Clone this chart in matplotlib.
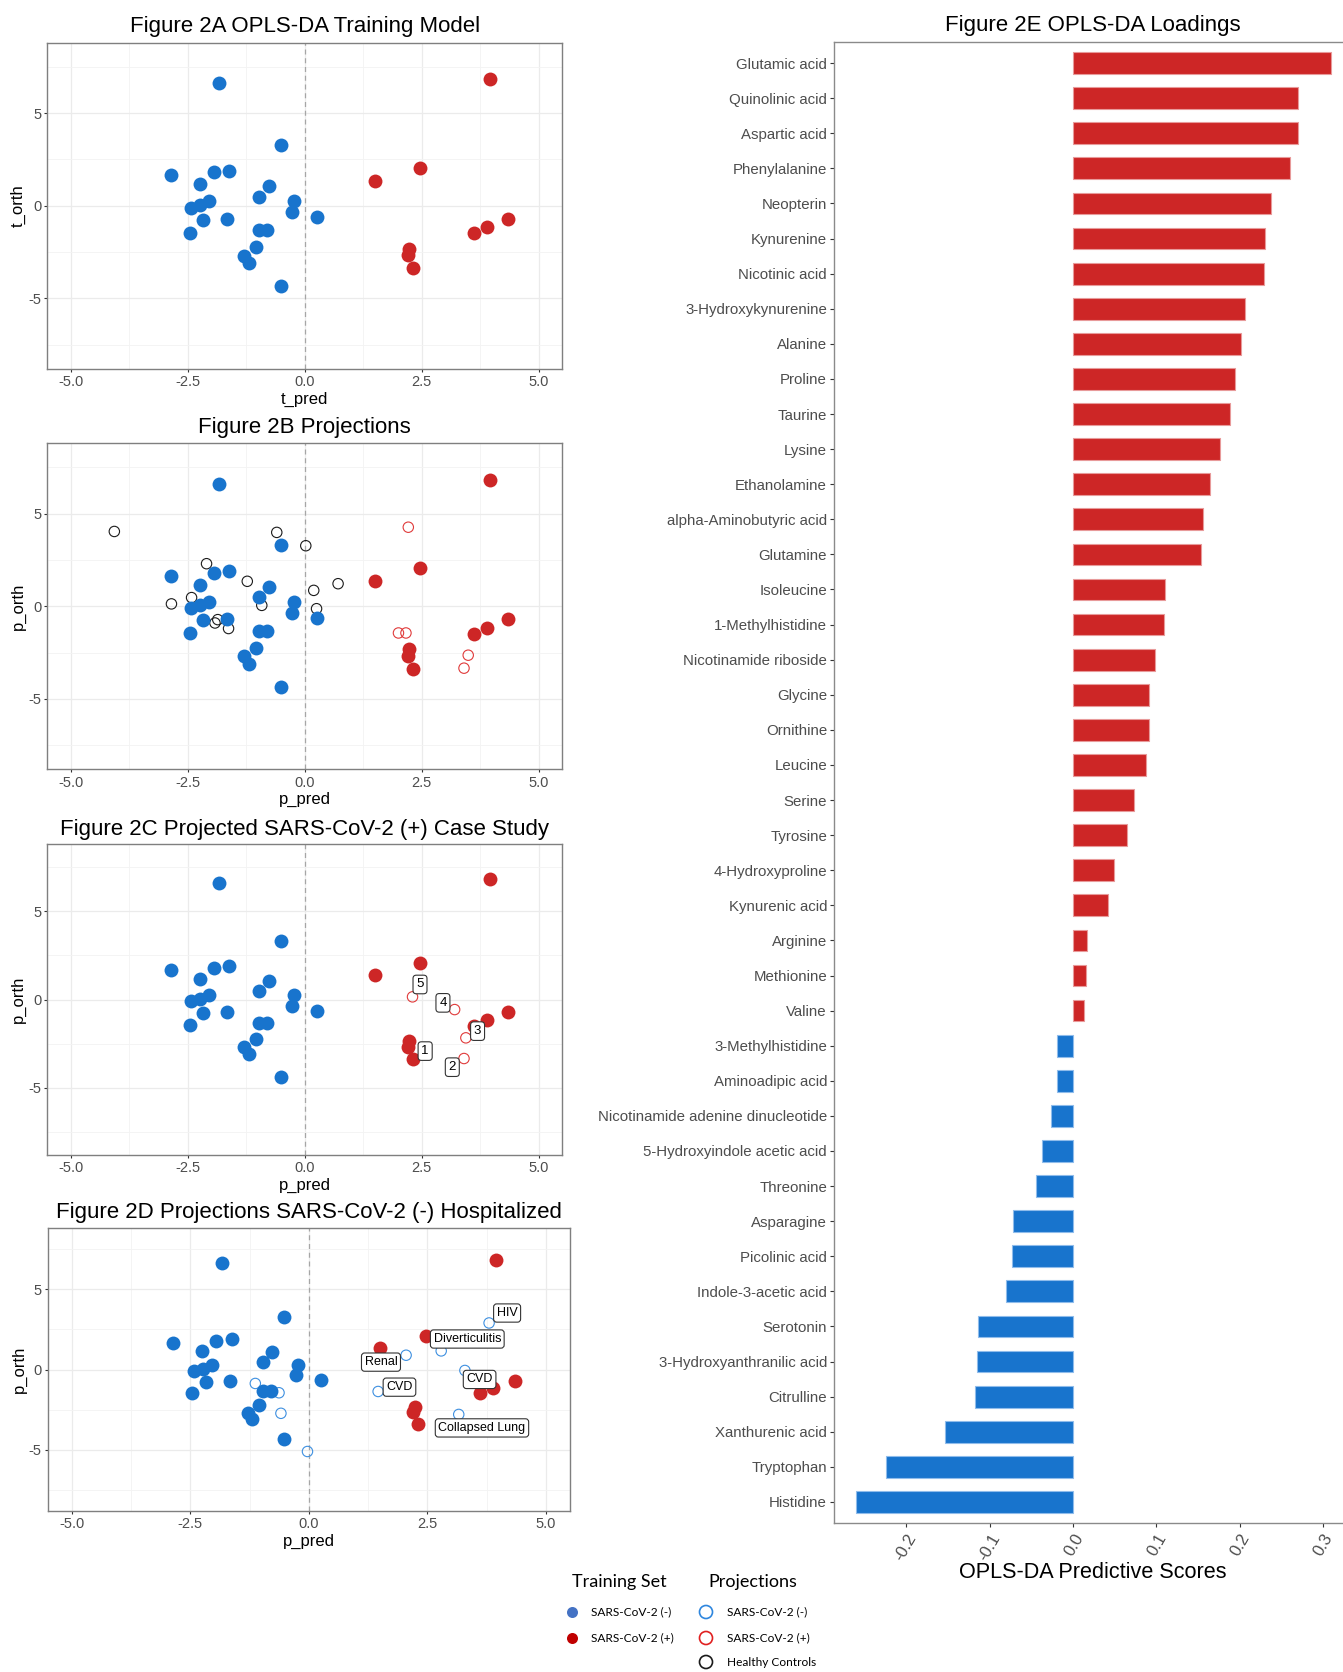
import matplotlib.pyplot as plt
import numpy as np

plt.rcParams['font.family'] = ['Liberation Sans', 'DejaVu Sans']

W, H = 1343, 1672

BLUE = '#1874CD'
RED = '#CD2626'
OPEN_BLUE = '#3D8FE0'
OPEN_RED = '#E03A3A'
OPEN_BLACK = '#1A1A1A'

# training set scores, shared by the four score plots
neg_x = [-1.83, -0.52, -2.86, -1.95, -1.62, -2.25, -0.77, -0.97, -0.24, -2.04, -2.23, -2.43,
         -0.28, 0.26, -2.17, -1.67, -2.46, -0.97, -0.80, -1.05, -1.29, -1.19, -0.52]
neg_y = [6.61, 3.29, 1.65, 1.80, 1.90, 1.15, 1.06, 0.48, 0.25, 0.25, 0.05, -0.11,
         -0.34, -0.63, -0.75, -0.70, -1.45, -1.31, -1.31, -2.24, -2.69, -3.11, -4.36]
pos_x = [3.95, 2.46, 1.50, 4.35, 3.89, 3.61, 2.23, 2.20, 2.31]
pos_y = [6.84, 2.06, 1.36, -0.70, -1.17, -1.49, -2.33, -2.66, -3.38]

# projections: healthy controls and SARS-CoV-2 (+) samples
healthy_x = [-4.07, -0.60, 0.02, -2.10, -1.23, 0.71, 0.19, -2.42, -2.85, -0.92, 0.25, -1.86, -1.92, -1.63]
healthy_y = [4.04, 3.99, 3.27, 2.30, 1.35, 1.22, 0.86, 0.47, 0.13, 0.05, -0.13, -0.72, -0.90, -1.20]
proj_pos_x = [2.21, 2.00, 2.16, 3.49, 3.40]
proj_pos_y = [4.27, -1.44, -1.44, -2.64, -3.34]

# SARS-CoV-2 (+) case study
case_labels = ['1', '2', '3', '4', '5']
case_x = [2.22, 3.40, 3.44, 3.20, 2.30]
case_y = [-2.55, -3.34, -2.17, -0.57, 0.15]
case_label_x = [2.57, 3.15, 3.69, 2.95, 2.46]
case_label_y = [-2.92, -3.83, -1.79, -0.19, 0.85]

# hospitalized SARS-CoV-2 (-) projections
hosp_labels = ['HIV', 'Diverticulitis', 'Renal', 'CVD', 'CVD', 'Collapsed Lung', '', '', '', '']
hosp_x = [3.80, 2.79, 2.05, 3.29, 1.46, 3.16, -1.13, -0.63, -0.59, -0.03]
hosp_y = [2.90, 1.16, 0.89, -0.06, -1.37, -2.80, -0.87, -1.45, -2.73, -5.11]
hosp_label_x = [4.18, 3.34, 1.52, 3.60, 1.91, 3.65]
hosp_label_y = [3.52, 1.90, 0.46, -0.62, -1.10, -3.64]

# OPLS-DA loadings
metabolites = ['Glutamic acid', 'Quinolinic acid', 'Aspartic acid', 'Phenylalanine', 'Neopterin',
               'Kynurenine', 'Nicotinic acid', '3-Hydroxykynurenine', 'Alanine', 'Proline',
               'Taurine', 'Lysine', 'Ethanolamine', 'alpha-Aminobutyric acid', 'Glutamine',
               'Isoleucine', '1-Methylhistidine', 'Nicotinamide riboside', 'Glycine', 'Ornithine',
               'Leucine', 'Serine', 'Tyrosine', '4-Hydroxyproline', 'Kynurenic acid',
               'Arginine', 'Methionine', 'Valine', '3-Methylhistidine', 'Aminoadipic acid',
               'Nicotinamide adenine dinucleotide', '5-Hydroxyindole acetic acid', 'Threonine',
               'Asparagine', 'Picolinic acid', 'Indole-3-acetic acid', 'Serotonin',
               '3-Hydroxyanthranilic acid', 'Citrulline', 'Xanthurenic acid', 'Tryptophan',
               'Histidine']
loadings = [0.310, 0.270, 0.270, 0.260, 0.238, 0.230, 0.229, 0.207, 0.202, 0.195,
            0.188, 0.177, 0.164, 0.156, 0.154, 0.110, 0.109, 0.099, 0.091, 0.091,
            0.088, 0.073, 0.065, 0.049, 0.042, 0.017, 0.015, 0.013, -0.019, -0.019,
            -0.026, -0.037, -0.044, -0.072, -0.073, -0.081, -0.114, -0.115, -0.118, -0.154,
            -0.224, -0.260]


def frame(l, t, r, b):
    # pixel box (left, top, right, bottom) -> figure fraction rect
    return [l / W, 1 - b / H, (r - l) / W, (b - t) / H]


def score_panel(fig, box, title, title_y, xlabel, ylabel):
    ax = fig.add_axes(frame(*box))
    ax.set_xlim(-5.5, 5.5)
    ax.set_ylim(-8.8, 8.8)
    ax.set_xticks([-5, -2.5, 0, 2.5, 5])
    ax.set_xticklabels(['-5.0', '-2.5', '0.0', '2.5', '5.0'])
    ax.set_xticks([-3.75, -1.25, 1.25, 3.75], minor=True)
    ax.set_yticks([-5, 0, 5])
    ax.set_yticklabels(['-5', '0', '5'])
    ax.set_yticks([-7.5, -2.5, 2.5, 7.5], minor=True)
    ax.grid(which='major', color='#EBEBEB', lw=0.9)
    ax.grid(which='minor', color='#F3F3F3', lw=0.6)
    ax.set_axisbelow(True)
    ax.tick_params(which='minor', length=0)
    ax.tick_params(which='major', length=2.5, width=0.8, color='#333333',
                   labelsize=10.5, labelcolor='#4D4D4D', pad=2)
    for s in ax.spines.values():
        s.set_color('#7F7F7F')
        s.set_linewidth(1.0)
    ax.axvline(0, color='#A6A6A6', lw=0.9, ls=(0, (4, 3)), zorder=1)
    ax.set_xlabel(xlabel, fontsize=12, labelpad=2)
    ax.set_ylabel(ylabel, fontsize=12, labelpad=1.5)
    cx = (box[0] + box[2]) / 2
    fig.text(cx / W, 1 - (title_y + 2.5) / H, title, fontsize=16, ha='center', va='center')
    return ax


def training(ax):
    ax.scatter(neg_x, neg_y, s=100, color=BLUE, lw=0, zorder=4)
    ax.scatter(pos_x, pos_y, s=100, color=RED, lw=0, zorder=4)


def open_points(ax, x, y, color):
    ax.scatter(x, y, s=56, facecolors='none', edgecolors=color, lw=0.8, zorder=3)


def tag(ax, x, y, text, size):
    ax.text(x, y, text, fontsize=size, ha='center', va='center', zorder=6,
            bbox=dict(boxstyle='round,pad=0.25', fc='white', ec='#333333', lw=0.8))


fig = plt.figure(figsize=(W / 100, H / 100), dpi=100)

# A: training model
ax = score_panel(fig, (47.4, 42.7, 562.3, 368.7), 'Figure 2A OPLS-DA Training Model', 24,
                 't_pred', 't_orth')
training(ax)

# B: projections
ax = score_panel(fig, (47.4, 443.3, 562.3, 769.3), 'Figure 2B Projections', 425,
                 'p_pred', 'p_orth')
open_points(ax, healthy_x, healthy_y, OPEN_BLACK)
open_points(ax, proj_pos_x, proj_pos_y, OPEN_RED)
training(ax)

# C: case study
ax = score_panel(fig, (47.4, 844, 562.3, 1155), 'Figure 2C Projected SARS-CoV-2 (+) Case Study',
                 826.7, 'p_pred', 'p_orth')
open_points(ax, case_x, case_y, OPEN_RED)
training(ax)
for lx, ly, t in zip(case_label_x, case_label_y, case_labels):
    tag(ax, lx, ly, t, 9.5)

# D: hospitalized negatives
ax = score_panel(fig, (48.1, 1228.3, 569.7, 1510.7),
                 'Figure 2D Projections SARS-CoV-2 (-) Hospitalized', 1210, 'p_pred', 'p_orth')
open_points(ax, hosp_x, hosp_y, OPEN_BLUE)
training(ax)
for lx, ly, t in zip(hosp_label_x, hosp_label_y, hosp_labels):
    tag(ax, lx, ly, t, 9)

# E: loadings bar chart
ax = fig.add_axes(frame(834, 42, 1352, 1523))
n = len(metabolites)
ypos = np.arange(n)[::-1]
vals = np.array(loadings)
colors = np.where(vals > 0, RED, BLUE)
edges = np.where(vals > 0, '#E89A9A', '#8FBCEB')
ax.barh(ypos, vals, height=0.62, color=colors, edgecolor=edges, lw=0.8)
ax.set_ylim(-0.6, n - 0.4)
ax.set_xlim(-0.287, 0.335)
ax.set_yticks(ypos)
ax.set_yticklabels(metabolites)
ax.set_xticks([-0.2, -0.1, 0.0, 0.1, 0.2, 0.3])
ax.set_xticklabels(['-0.2', '-0.1', '0.0', '0.1', '0.2', '0.3'], rotation=60,
                   ha='right', va='top', rotation_mode='anchor')
ax.tick_params(axis='y', length=3, width=0.8, color='#333333', labelsize=10.8,
               labelcolor='#4D4D4D', pad=2)
ax.tick_params(axis='x', length=3, width=0.8, color='#333333', labelsize=12,
               labelcolor='#4D4D4D', pad=3)
for s in ax.spines.values():
    s.set_color('#8A8A8A')
    s.set_linewidth(1.0)
fig.text(1093 / W, 1 - 25 / H, 'Figure 2E OPLS-DA Loadings', fontsize=16, ha='center', va='center')
fig.text(1093 / W, 1 - 1573 / H, 'OPLS-DA Predictive Scores', fontsize=15.6, ha='center', va='center')

# legend drawn in pixel space
lg = fig.add_axes([0, 0, 1, 1])
lg.set_xlim(0, W)
lg.set_ylim(H, 0)
lg.axis('off')
lfont = ['Lato', 'DejaVu Sans']
lg.text(619, 1582, 'Training Set', fontsize=13, ha='center', va='center', family=lfont)
lg.text(753, 1582, 'Projections', fontsize=13, ha='center', va='center', family=lfont)
lg.scatter([572], [1612], s=63, color='#4472C4', lw=0)
lg.scatter([572], [1638], s=63, color='#C00000', lw=0)
lg.scatter([706, 706, 706], [1612, 1638, 1662], s=88, facecolors='none',
           edgecolors=['#2E86DE', '#E02020', '#1A1A1A'], lw=1.2)
for yy, t in [(1612, 'SARS-CoV-2 (-)'), (1638, 'SARS-CoV-2 (+)')]:
    lg.text(591, yy, t, fontsize=8.6, ha='left', va='center', family=lfont)
for yy, t in [(1612, 'SARS-CoV-2 (-)'), (1638, 'SARS-CoV-2 (+)'), (1662, 'Healthy Controls')]:
    lg.text(727, yy, t, fontsize=8.6, ha='left', va='center', family=lfont)

fig.savefig('out.png', dpi=100)
